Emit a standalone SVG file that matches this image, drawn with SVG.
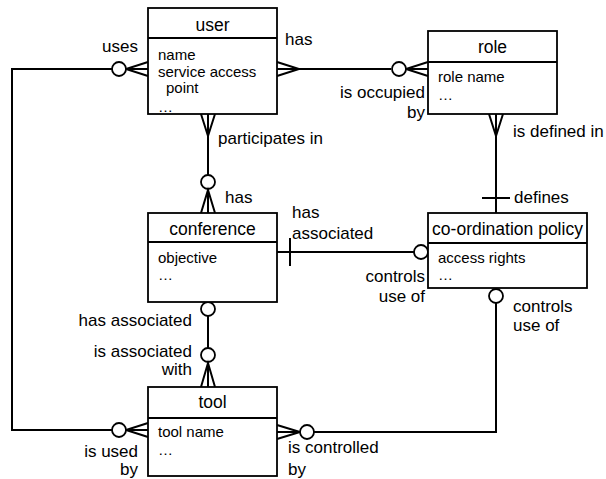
<svg xmlns="http://www.w3.org/2000/svg" width="606" height="479" viewBox="0 0 606 479">
<style>
.box{fill:#fff;stroke:#000;stroke-width:1.8}
.div{stroke:#000;stroke-width:1.8}
.ln{fill:none;stroke:#000;stroke-width:2}
.cir{fill:#fff;stroke:#000;stroke-width:1.8}
text{font-family:"Liberation Sans",Arial,sans-serif;fill:#000}
.t{font-size:17.5px;text-anchor:middle}
.a{font-size:15px}
.l{font-size:17px}
.r{text-anchor:end}
</style>
<rect width="606" height="479" fill="#fff"/>
<g id="connectors">
  <!-- user uses tool -->
  <path class="ln" d="M112,69 H12 V430 H112"/>
  <path class="ln" d="M148,62 L126,69 L148,76 M126,69 H148"/>
  <circle class="cir" cx="119" cy="69" r="7"/>
  <path class="ln" d="M148,423 L126,430 L148,437 M126,430 H148"/>
  <circle class="cir" cx="119" cy="430" r="7"/>
  <!-- user has role -->
  <path class="ln" d="M277,69 H391"/>
  <path class="ln" d="M277,62 L299,69 L277,76"/>
  <path class="ln" d="M428,62 L406,69 L428,76 M406,69 H428"/>
  <circle class="cir" cx="399" cy="69" r="7"/>
  <!-- user participates in conference -->
  <path class="ln" d="M208,114 V175"/>
  <path class="ln" d="M201,114 L208,136 L215,114"/>
  <circle class="cir" cx="208" cy="182" r="7"/>
  <path class="ln" d="M201,213 L208,190 L215,213 M208,190 V213"/>
  <!-- role defined in policy -->
  <path class="ln" d="M496,114 V213"/>
  <path class="ln" d="M489,114 L496,136 L503,114"/>
  <path class="ln" d="M482,198 H510"/>
  <!-- conference associated policy -->
  <path class="ln" d="M277,252 H414"/>
  <path class="ln" d="M290,238 V266"/>
  <circle class="cir" cx="421" cy="252" r="7"/>
  <!-- conference associated tool -->
  <path class="ln" d="M208,302 V348"/>
  <circle class="cir" cx="208" cy="309" r="7"/>
  <circle class="cir" cx="208" cy="355" r="7"/>
  <path class="ln" d="M201,387 L208,363 L215,387 M208,363 V387"/>
  <!-- policy controls tool -->
  <path class="ln" d="M496,303 V432 H314"/>
  <circle class="cir" cx="496" cy="296" r="7"/>
  <path class="ln" d="M277,425 L300,432 L277,439 M277,432 H300"/>
  <circle class="cir" cx="307" cy="432" r="7"/>
</g>
<g id="user">
  <rect class="box" x="148" y="8" width="129" height="106"/>
  <line class="div" x1="148" y1="38" x2="277" y2="38"/>
  <text class="t" x="212.5" y="31">user</text>
  <text class="a" x="158" y="60">name</text>
  <text class="a" x="158" y="77">service access</text>
  <text class="a" x="166" y="93">point</text>
  <text class="a" x="158" y="112">…</text>
</g>
<g id="role">
  <rect class="box" x="428" y="31" width="129" height="83"/>
  <line class="div" x1="428" y1="62" x2="557" y2="62"/>
  <text class="t" x="492.5" y="53">role</text>
  <text class="a" x="438" y="82">role name</text>
  <text class="a" x="438" y="100">…</text>
</g>
<g id="conference">
  <rect class="box" x="148" y="213" width="129" height="89"/>
  <line class="div" x1="148" y1="242" x2="277" y2="242"/>
  <text class="t" x="212.5" y="235">conference</text>
  <text class="a" x="158" y="263">objective</text>
  <text class="a" x="158" y="280">…</text>
</g>
<g id="coordination-policy">
  <rect class="box" x="428" y="213" width="159" height="75"/>
  <line class="div" x1="428" y1="243" x2="587" y2="243"/>
  <text class="t" x="507.5" y="235">co-ordination policy</text>
  <text class="a" x="438" y="263">access rights</text>
  <text class="a" x="438" y="280">…</text>
</g>
<g id="tool">
  <rect class="box" x="148" y="387" width="129" height="89"/>
  <line class="div" x1="148" y1="418" x2="277" y2="418"/>
  <text class="t" x="212.5" y="408">tool</text>
  <text class="a" x="158" y="437">tool name</text>
  <text class="a" x="158" y="455">…</text>
</g>
<g id="labels">
  <text class="l r" x="138" y="52">uses</text>
  <text class="l" x="285" y="45">has</text>
  <text class="l r" x="425" y="98">is occupied</text>
  <text class="l r" x="425" y="118">by</text>
  <text class="l" x="513" y="137">is defined in</text>
  <text class="l" x="218" y="144">participates in</text>
  <text class="l" x="225" y="203">has</text>
  <text class="l" x="514" y="203">defines</text>
  <text class="l" x="292" y="218">has</text>
  <text class="l" x="292" y="239">associated</text>
  <text class="l r" x="425" y="282">controls</text>
  <text class="l r" x="425" y="302">use of</text>
  <text class="l" x="513" y="312">controls</text>
  <text class="l" x="513" y="331">use of</text>
  <text class="l r" x="192" y="326">has associated</text>
  <text class="l r" x="192" y="357">is associated</text>
  <text class="l r" x="192" y="375">with</text>
  <text class="l r" x="138" y="457">is used</text>
  <text class="l r" x="138" y="475">by</text>
  <text class="l" x="288" y="453">is controlled</text>
  <text class="l" x="288" y="475">by</text>
</g>
</svg>
